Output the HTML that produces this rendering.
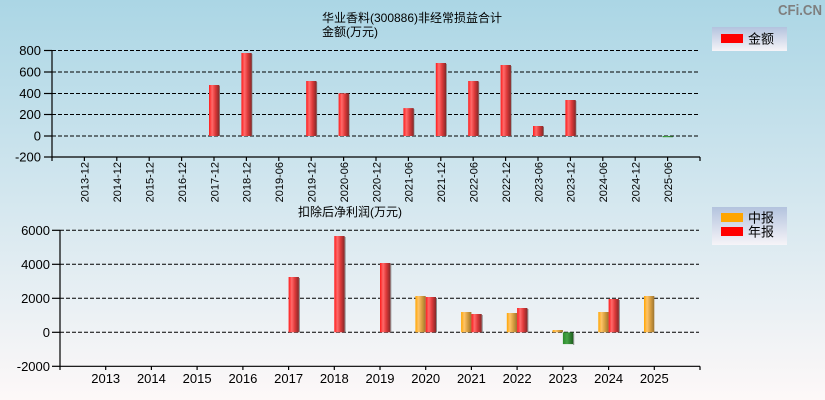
<!DOCTYPE html>
<html><head><meta charset="utf-8"><style>
html,body{margin:0;padding:0;}
body{width:825px;height:400px;overflow:hidden;background:linear-gradient(to bottom,#abd6e5 0%,#d4e7ef 50%,#fdf8f8 100%);}
svg{display:block;}
text{font-family:"Liberation Sans","Noto Sans CJK SC",sans-serif;fill:#000;}
</style></head><body>
<svg width="825" height="400" viewBox="0 0 825 400" xmlns="http://www.w3.org/2000/svg">
<defs>
<linearGradient id="gr" x1="0" y1="0" x2="1" y2="0">
<stop offset="0" stop-color="#ff1a1a"/><stop offset="0.3" stop-color="#ff6a6a"/><stop offset="0.6" stop-color="#e03a3a"/><stop offset="1" stop-color="#852828"/></linearGradient>
<linearGradient id="go" x1="0" y1="0" x2="1" y2="0">
<stop offset="0" stop-color="#ffa500"/><stop offset="0.3" stop-color="#ffc468"/><stop offset="0.65" stop-color="#d59c3e"/><stop offset="1" stop-color="#9c7430"/></linearGradient>
<linearGradient id="gg" x1="0" y1="0" x2="1" y2="0">
<stop offset="0" stop-color="#2a8a2a"/><stop offset="0.4" stop-color="#46a446"/><stop offset="1" stop-color="#1e5e1e"/></linearGradient>
<linearGradient id="lg" x1="0" y1="0" x2="0" y2="1">
<stop offset="0" stop-color="#b3c3de"/><stop offset="1" stop-color="#f6f4f8"/></linearGradient>
</defs>

<!-- watermark -->
<text x="778" y="15" font-size="14.5" font-weight="bold" fill="#7f7f7f" style="fill:#7f7f7f" textLength="44" lengthAdjust="spacingAndGlyphs">CFi.CN</text>

<!-- titles -->
<text x="412" y="22" font-size="12" text-anchor="middle">华业香料(300886)非经常损益合计</text>
<text x="322" y="36" font-size="12">金额(万元)</text>
<text x="298" y="216" font-size="12">扣除后净利润(万元)</text>

<!-- ============ TOP CHART ============ -->
<g stroke="#000" stroke-width="1" stroke-dasharray="4 2" fill="none">
<line x1="52" y1="50.5" x2="699" y2="50.5"/>
<line x1="52" y1="72" x2="699" y2="72"/>
<line x1="52" y1="93.5" x2="699" y2="93.5"/>
<line x1="52" y1="114.5" x2="699" y2="114.5"/>
<line x1="52" y1="136" x2="699" y2="136"/>
</g>
<g stroke="#000" stroke-width="1.2" fill="none">
<line x1="52" y1="50" x2="52" y2="161"/>
<line x1="52" y1="157" x2="700" y2="157"/>
<line x1="700" y1="157" x2="700" y2="161"/>
<line x1="44" y1="50.5" x2="52" y2="50.5"/>
<line x1="44" y1="72" x2="52" y2="72"/>
<line x1="44" y1="93.5" x2="52" y2="93.5"/>
<line x1="44" y1="114.5" x2="52" y2="114.5"/>
<line x1="44" y1="136" x2="52" y2="136"/>
<line x1="44" y1="157" x2="52" y2="157"/>
<line x1="84.4" y1="157" x2="84.4" y2="161"/>
<line x1="116.8" y1="157" x2="116.8" y2="161"/>
<line x1="149.2" y1="157" x2="149.2" y2="161"/>
<line x1="181.6" y1="157" x2="181.6" y2="161"/>
<line x1="214" y1="157" x2="214" y2="161"/>
<line x1="246.4" y1="157" x2="246.4" y2="161"/>
<line x1="278.8" y1="157" x2="278.8" y2="161"/>
<line x1="311.2" y1="157" x2="311.2" y2="161"/>
<line x1="343.6" y1="157" x2="343.6" y2="161"/>
<line x1="376" y1="157" x2="376" y2="161"/>
<line x1="408.4" y1="157" x2="408.4" y2="161"/>
<line x1="440.8" y1="157" x2="440.8" y2="161"/>
<line x1="473.2" y1="157" x2="473.2" y2="161"/>
<line x1="505.6" y1="157" x2="505.6" y2="161"/>
<line x1="538" y1="157" x2="538" y2="161"/>
<line x1="570.4" y1="157" x2="570.4" y2="161"/>
<line x1="602.8" y1="157" x2="602.8" y2="161"/>
<line x1="635.2" y1="157" x2="635.2" y2="161"/>
<line x1="667.6" y1="157" x2="667.6" y2="161"/>
</g>
<g font-size="13" text-anchor="end">
<text x="41" y="55">800</text>
<text x="41" y="76.5">600</text>
<text x="41" y="98">400</text>
<text x="41" y="119">200</text>
<text x="41" y="140.5">0</text>
<text x="41" y="161.5">-200</text>
</g>
<g font-size="11" text-anchor="end">
<text transform="translate(88.7,162) rotate(-90)">2013-12</text>
<text transform="translate(121.1,162) rotate(-90)">2014-12</text>
<text transform="translate(153.5,162) rotate(-90)">2015-12</text>
<text transform="translate(185.9,162) rotate(-90)">2016-12</text>
<text transform="translate(218.3,162) rotate(-90)">2017-12</text>
<text transform="translate(250.7,162) rotate(-90)">2018-12</text>
<text transform="translate(283.1,162) rotate(-90)">2019-06</text>
<text transform="translate(315.5,162) rotate(-90)">2019-12</text>
<text transform="translate(347.9,162) rotate(-90)">2020-06</text>
<text transform="translate(380.3,162) rotate(-90)">2020-12</text>
<text transform="translate(412.7,162) rotate(-90)">2021-06</text>
<text transform="translate(445.1,162) rotate(-90)">2021-12</text>
<text transform="translate(477.5,162) rotate(-90)">2022-06</text>
<text transform="translate(509.9,162) rotate(-90)">2022-12</text>
<text transform="translate(542.3,162) rotate(-90)">2023-06</text>
<text transform="translate(574.7,162) rotate(-90)">2023-12</text>
<text transform="translate(607.1,162) rotate(-90)">2024-06</text>
<text transform="translate(639.5,162) rotate(-90)">2024-12</text>
<text transform="translate(671.9,162) rotate(-90)">2025-06</text>
</g>
<!-- top bars -->
<g fill="#8a8a8a">
<rect x="219" y="86" width="1" height="50"/>
<rect x="251.4" y="54" width="1" height="82"/>
<rect x="316.2" y="82" width="1" height="54"/>
<rect x="348.6" y="94.3" width="1" height="41.7"/>
<rect x="413.4" y="109.1" width="1" height="26.9"/>
<rect x="445.8" y="64" width="1" height="72"/>
<rect x="478.2" y="82" width="1" height="54"/>
<rect x="510.6" y="66" width="1" height="70"/>
<rect x="543" y="127" width="1" height="9"/>
<rect x="575.4" y="101" width="1" height="35"/>
</g>
<g fill="url(#gr)">
<rect x="209" y="85" width="10.3" height="51"/>
<rect x="241.4" y="53" width="10.3" height="83"/>
<rect x="306.2" y="81" width="10.3" height="55"/>
<rect x="338.6" y="93.3" width="10.3" height="42.7"/>
<rect x="403.4" y="108.1" width="10.3" height="27.9"/>
<rect x="435.8" y="63" width="10.3" height="73"/>
<rect x="468.2" y="81" width="10.3" height="55"/>
<rect x="500.6" y="65" width="10.3" height="71"/>
<rect x="533" y="126" width="10.3" height="10"/>
<rect x="565.4" y="100" width="10.3" height="36"/>
</g>
<rect x="662.6" y="136" width="10.3" height="1.2" fill="url(#gg)"/>

<!-- top legend -->
<rect x="712" y="27" width="75" height="24" fill="url(#lg)"/>
<rect x="721" y="34" width="22" height="9" fill="#ff0000"/>
<text x="748" y="43.5" font-size="13">金额</text>

<!-- ============ BOTTOM CHART ============ -->
<g stroke="#000" stroke-width="1" stroke-dasharray="4 2" fill="none">
<line x1="60" y1="230.3" x2="699" y2="230.3"/>
<line x1="60" y1="264.3" x2="699" y2="264.3"/>
<line x1="60" y1="298.3" x2="699" y2="298.3"/>
<line x1="60" y1="332.3" x2="699" y2="332.3"/>
</g>
<g stroke="#000" stroke-width="1.2" fill="none">
<line x1="60" y1="230" x2="60" y2="370"/>
<line x1="60" y1="366.3" x2="700" y2="366.3"/>
<line x1="700" y1="366.3" x2="700" y2="370"/>
<line x1="52" y1="230.3" x2="60" y2="230.3"/>
<line x1="52" y1="264.3" x2="60" y2="264.3"/>
<line x1="52" y1="298.3" x2="60" y2="298.3"/>
<line x1="52" y1="332.3" x2="60" y2="332.3"/>
<line x1="52" y1="366.3" x2="60" y2="366.3"/>
<line x1="105.7" y1="366.3" x2="105.7" y2="370"/>
<line x1="151.4" y1="366.3" x2="151.4" y2="370"/>
<line x1="197.1" y1="366.3" x2="197.1" y2="370"/>
<line x1="242.9" y1="366.3" x2="242.9" y2="370"/>
<line x1="288.6" y1="366.3" x2="288.6" y2="370"/>
<line x1="334.3" y1="366.3" x2="334.3" y2="370"/>
<line x1="380" y1="366.3" x2="380" y2="370"/>
<line x1="425.7" y1="366.3" x2="425.7" y2="370"/>
<line x1="471.4" y1="366.3" x2="471.4" y2="370"/>
<line x1="517.1" y1="366.3" x2="517.1" y2="370"/>
<line x1="562.9" y1="366.3" x2="562.9" y2="370"/>
<line x1="608.6" y1="366.3" x2="608.6" y2="370"/>
<line x1="654.3" y1="366.3" x2="654.3" y2="370"/>
</g>
<g font-size="13" text-anchor="end">
<text x="50" y="235">6000</text>
<text x="50" y="269">4000</text>
<text x="50" y="303">2000</text>
<text x="50" y="337">0</text>
<text x="50" y="371">-2000</text>
</g>
<g font-size="13" text-anchor="middle">
<text x="105.7" y="383">2013</text>
<text x="151.4" y="383">2014</text>
<text x="197.1" y="383">2015</text>
<text x="242.9" y="383">2016</text>
<text x="288.6" y="383">2017</text>
<text x="334.3" y="383">2018</text>
<text x="380" y="383">2019</text>
<text x="425.7" y="383">2020</text>
<text x="471.4" y="383">2021</text>
<text x="517.1" y="383">2022</text>
<text x="562.9" y="383">2023</text>
<text x="608.6" y="383">2024</text>
<text x="654.3" y="383">2025</text>
</g>
<!-- shadows -->
<g fill="#8a8a8a">
<rect x="298.9" y="278" width="1" height="54.3"/>
<rect x="344.6" y="237" width="1" height="95.3"/>
<rect x="390.3" y="264" width="1" height="68.3"/>
<rect x="436" y="298" width="1" height="34.3"/>
<rect x="481.7" y="315" width="1" height="17.3"/>
<rect x="527.4" y="309" width="1" height="23.3"/>
<rect x="573.2" y="333.3" width="1" height="11.7"/>
<rect x="618.9" y="300" width="1" height="32.3"/>
</g>
<!-- orange 中报 -->
<g fill="url(#go)">
<rect x="415.4" y="296" width="10.3" height="36.3"/>
<rect x="461.1" y="312" width="10.3" height="20.3"/>
<rect x="506.8" y="313" width="10.3" height="19.3"/>
<rect x="552.6" y="330" width="10.3" height="2.3"/>
<rect x="598.3" y="312" width="10.3" height="20.3"/>
<rect x="644" y="296" width="10.3" height="36.3"/>
</g>
<!-- red 年报 -->
<g fill="url(#gr)">
<rect x="288.6" y="277" width="10.3" height="55.3"/>
<rect x="334.3" y="236" width="10.3" height="96.3"/>
<rect x="380" y="263" width="10.3" height="69.3"/>
<rect x="425.7" y="297" width="10.3" height="35.3"/>
<rect x="471.4" y="314" width="10.3" height="18.3"/>
<rect x="517.1" y="308" width="10.3" height="24.3"/>
<rect x="608.6" y="299" width="10.3" height="33.3"/>
</g>
<rect x="562.9" y="332.3" width="10.3" height="11.8" fill="url(#gg)"/>

<!-- bottom legend -->
<rect x="712" y="207" width="75" height="38" fill="url(#lg)"/>
<rect x="721" y="213" width="22" height="9" fill="#ffa500"/>
<rect x="721" y="227" width="22" height="9" fill="#ff0000"/>
<text x="748" y="222.5" font-size="13">中报</text>
<text x="748" y="236.5" font-size="13">年报</text>
</svg>
</body></html>
